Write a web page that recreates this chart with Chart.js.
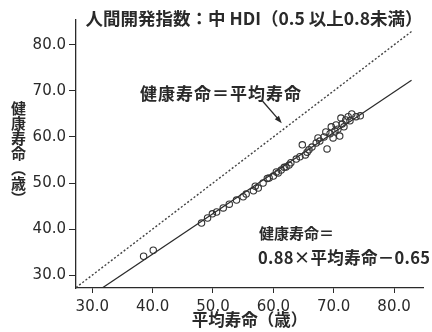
<!DOCTYPE html>
<html>
<head>
<meta charset="utf-8">
<script src="https://cdn.jsdelivr.net/npm/chart.js@4"></script>
<style>
  body { margin: 0; background: #fff; }
  #wrap { position: relative; width: 432px; height: 332px; }
  #ytitle {
    position: absolute; left: 10px; top: 101px;
    writing-mode: vertical-rl;
    font: bold 15px "Noto Sans CJK JP";
    line-height: 16px; color: #2a2a2a;
  }
</style>
</head>
<body>
<div id="wrap">
  <canvas id="chart" width="432" height="332"></canvas>
  <div id="ytitle">健康寿命（歳）</div>
</div>
<script>
// 平均寿命 (x) と 健康寿命 (y)
const lifeExp = [38.5, 40.1, 48.1, 49.1, 49.9, 50.6, 51.7, 52.7, 53.9, 55.0, 55.5, 56.7, 57.0, 57.5, 58.3,
  59.0, 59.3, 60.0, 60.5, 60.8, 61.3, 61.8, 62.1, 62.6, 62.9, 63.8, 64.4, 64.8, 65.3, 65.6, 65.9, 66.4,
  67.1, 67.4, 67.7, 68.4, 68.7, 68.9, 69.4, 69.6, 69.9, 70.2, 70.4, 70.7, 71.0, 71.2, 71.4, 71.7, 72.0,
  72.4, 72.7, 73.0, 73.7, 74.4];
const healthyLife = [34.1, 35.4, 41.3, 42.4, 43.3, 43.7, 44.6, 45.4, 46.3, 47.0, 47.6, 48.3, 49.3, 48.9, 50.0,
  51.0, 51.1, 51.5, 52.4, 52.2, 52.8, 53.4, 53.5, 53.9, 54.4, 55.2, 55.7, 58.3, 56.1, 56.7, 57.2, 57.8,
  58.7, 59.8, 59.1, 60.0, 61.1, 57.4, 60.7, 62.2, 59.8, 61.3, 62.6, 61.7, 60.2, 64.1, 62.8, 62.2, 63.7,
  64.4, 63.5, 65.0, 64.4, 64.6];

const xTicks = [30, 40, 50, 60, 70, 80];
const yTicks = [30, 40, 50, 60, 70, 80];

// 健康寿命＝平均寿命 の線
const identityX = [27.3, 83.0];
// 健康寿命＝0.88×平均寿命−0.65
const fitSlope = 0.88, fitIntercept = -0.65;
const fitX = [31.7, 82.9];

// 矢印 (データ座標)
const arrowFrom = [58.2, 67.8];
const arrowTo = [61.4, 63.0];

const ink = "#2a2a2a";
const cjk = "\"Noto Sans CJK JP\"";

const annotations = {
  id: "annotations",
  afterDraw(chart) {
    const ctx = chart.ctx;
    const xs = chart.scales.x, ys = chart.scales.y;
    ctx.save();
    ctx.fillStyle = ink;
    ctx.textBaseline = "middle";

    ctx.font = "bold 17.5px " + cjk;
    ctx.textAlign = "center";
    ctx.fillText("人間開発指数：中 HDI（0.5 以上0.8未満）", 254, 18);

    ctx.textAlign = "left";
    ctx.font = "bold 17px " + cjk;
    ctx.letterSpacing = "1px";
    ctx.fillText("健康寿命＝平均寿命", 140, 94);
    ctx.letterSpacing = "0px";
    ctx.font = "bold 15px " + cjk;
    ctx.fillText("健康寿命＝", 259, 233);
    ctx.font = "bold 16.5px " + cjk;
    ctx.letterSpacing = "0.3px";
    ctx.fillText("0.88×平均寿命－0.65", 258, 258);
    ctx.letterSpacing = "0px";

    // arrow
    const x1 = xs.getPixelForValue(arrowFrom[0]), y1 = ys.getPixelForValue(arrowFrom[1]);
    const x2 = xs.getPixelForValue(arrowTo[0]), y2 = ys.getPixelForValue(arrowTo[1]);
    const ang = Math.atan2(y2 - y1, x2 - x1);
    ctx.strokeStyle = ink;
    ctx.lineWidth = 1.3;
    ctx.beginPath();
    ctx.moveTo(x1, y1);
    ctx.lineTo(x2 - 5 * Math.cos(ang), y2 - 5 * Math.sin(ang));
    ctx.stroke();
    ctx.beginPath();
    ctx.moveTo(x2, y2);
    ctx.lineTo(x2 - 8 * Math.cos(ang - 0.35), y2 - 8 * Math.sin(ang - 0.35));
    ctx.lineTo(x2 - 8 * Math.cos(ang + 0.35), y2 - 8 * Math.sin(ang + 0.35));
    ctx.closePath();
    ctx.fill();
    ctx.restore();
  }
};

const whiteBg = {
  id: "whiteBg",
  beforeDraw(chart) {
    const ctx = chart.ctx;
    ctx.save();
    ctx.fillStyle = "#fff";
    ctx.fillRect(0, 0, chart.width, chart.height);
    ctx.restore();
  }
};

new Chart(document.getElementById("chart"), {
  type: "scatter",
  data: {
    datasets: [
      {
        data: lifeExp.map((v, i) => ({ x: v, y: healthyLife[i] })),
        pointRadius: 3.2,
        pointBorderWidth: 1.1,
        borderColor: "#333",
        backgroundColor: "rgba(255,255,255,0)"
      },
      {
        type: "line",
        data: identityX.map(v => ({ x: v, y: v })),
        borderColor: "#444",
        borderWidth: 1.4,
        borderDash: [2, 2],
        pointRadius: 0,
        fill: false
      },
      {
        type: "line",
        data: fitX.map(v => ({ x: v, y: fitSlope * v + fitIntercept })),
        borderColor: ink,
        borderWidth: 1.2,
        pointRadius: 0,
        fill: false
      }
    ]
  },
  options: {
    responsive: false,
    animation: false,
    layout: { padding: { top: 20, right: 9, left: 0, bottom: 0 } },
    plugins: { legend: { display: false }, tooltip: { enabled: false } },
    scales: {
      x: {
        type: "linear",
        min: 27.3, max: 84.8,
        afterBuildTicks: s => { s.ticks = xTicks.map(v => ({ value: v })); },
        afterFit: s => { s.height = 44; },
        ticks: {
          callback: v => v.toFixed(1),
          font: { family: "DejaVu Sans", size: 15 },
          color: ink, padding: 5, maxRotation: 0
        },
        grid: { drawOnChartArea: false, drawTicks: true, tickLength: 5, color: ink },
        border: { color: ink, width: 1.3 },
        title: {
          display: true, text: "平均寿命（歳）",
          font: { family: "Noto Sans CJK JP", size: 16.5, weight: "bold" },
          color: ink, padding: { top: 0, bottom: 2 }
        }
      },
      y: {
        type: "linear",
        min: 27.2, max: 85.4,
        afterBuildTicks: s => { s.ticks = yTicks.map(v => ({ value: v })); },
        afterFit: s => { s.width = 76; },
        ticks: {
          callback: v => v.toFixed(1),
          font: { family: "DejaVu Sans", size: 15 },
          color: ink, padding: 3
        },
        grid: { drawOnChartArea: false, drawTicks: true, tickLength: 7, color: ink },
        border: { color: ink, width: 1.3 }
      }
    }
  },
  plugins: [whiteBg, annotations]
});
</script>
</body>
</html>
